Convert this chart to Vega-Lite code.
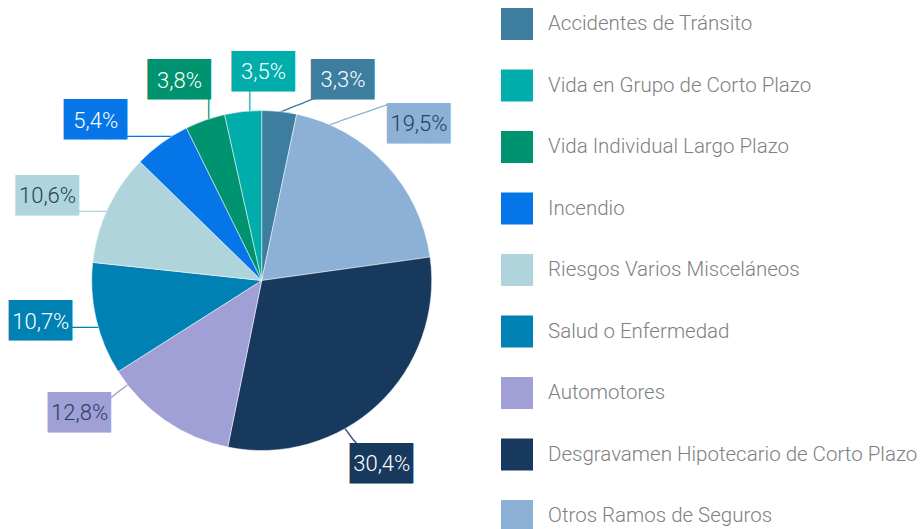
{
  "$schema": "https://vega.github.io/schema/vega-lite/v6.json",
  "width": 523.4,
  "height": 497,
  "autosize": {"type": "none"},
  "padding": {"left": 0, "top": 32, "right": 398.6, "bottom": 0},
  "background": "#ffffff",
  "config": {"view": {"stroke": null}},
  "data": {"values": [
    {"ramo": "Accidentes de Tránsito", "valor": 3.3, "etiqueta": "3,3%", "orden": 1},
    {"ramo": "Otros Ramos de Seguros", "valor": 19.5, "etiqueta": "19,5%", "orden": 2},
    {"ramo": "Desgravamen Hipotecario de Corto Plazo", "valor": 30.4, "etiqueta": "30,4%", "orden": 3},
    {"ramo": "Automotores", "valor": 12.8, "etiqueta": "12,8%", "orden": 4},
    {"ramo": "Salud o Enfermedad", "valor": 10.7, "etiqueta": "10,7%", "orden": 5},
    {"ramo": "Riesgos Varios Misceláneos", "valor": 10.6, "etiqueta": "10,6%", "orden": 6},
    {"ramo": "Incendio", "valor": 5.4, "etiqueta": "5,4%", "orden": 7},
    {"ramo": "Vida Individual Largo Plazo", "valor": 3.8, "etiqueta": "3,8%", "orden": 8},
    {"ramo": "Vida en Grupo de Corto Plazo", "valor": 3.5, "etiqueta": "3,5%", "orden": 9}
  ]},
  "encoding": {
    "theta": {"field": "valor", "type": "quantitative", "stack": true},
    "order": {"field": "orden", "type": "quantitative"},
    "detail": {"field": "ramo", "type": "nominal"}
  },
  "layer": [
    {"mark": {"type": "text", "radius": 222, "font": "DejaVu Sans Mono", "fontSize": 14, "align": "left", "baseline": "middle", "angle": 338.2, "dx": -30.6, "dy": 47.7, "color": "#3d7da0"},
     "encoding": {"text": {"value": "──────"}, "opacity": {"condition": {"test": "datum.orden == 1", "value": 1}, "value": 0}}},
    {"mark": {"type": "text", "radius": 222, "font": "DejaVu Sans Mono", "fontSize": 14, "align": "left", "baseline": "middle", "angle": 340.8, "dx": -94.2, "dy": -34.3, "color": "#8cb0d6"},
     "encoding": {"text": {"value": "────────"}, "opacity": {"condition": {"test": "datum.orden == 2", "value": 1}, "value": 0}}},
    {"mark": {"type": "text", "radius": 222, "font": "DejaVu Sans Mono", "fontSize": 14, "align": "left", "baseline": "middle", "angle": 52.6, "dx": -62.5, "dy": 47.2, "color": "#17395d"},
     "encoding": {"text": {"value": "────"}, "opacity": {"condition": {"test": "datum.orden == 3", "value": 1}, "value": 0}}},
    {"mark": {"type": "text", "radius": 222, "font": "DejaVu Sans Mono", "fontSize": 14, "align": "left", "baseline": "middle", "angle": 142, "dx": -51.5, "dy": 67.9, "color": "#a09fd6"},
     "encoding": {"text": {"value": "─────"}, "opacity": {"condition": {"test": "datum.orden == 4", "value": 1}, "value": 0}}},
    {"mark": {"type": "text", "radius": 222, "font": "DejaVu Sans Mono", "fontSize": 14, "align": "left", "baseline": "middle", "angle": 0, "dx": 22.2, "dy": -2.7, "color": "#0081b3"},
     "encoding": {"text": {"value": "─────"}, "opacity": {"condition": {"test": "datum.orden == 5", "value": 1}, "value": 0}}},
    {"mark": {"type": "text", "radius": 222, "font": "DejaVu Sans Mono", "fontSize": 14, "align": "left", "baseline": "middle", "angle": 0, "dx": 13.5, "dy": 25.7, "color": "#b0d4db"},
     "encoding": {"text": {"value": "─────"}, "opacity": {"condition": {"test": "datum.orden == 6", "value": 1}, "value": 0}}},
    {"mark": {"type": "text", "radius": 222, "font": "DejaVu Sans Mono", "fontSize": 14, "align": "left", "baseline": "middle", "angle": 0, "dx": -8.5, "dy": 36.4, "color": "#0575e8"},
     "encoding": {"text": {"value": "───────"}, "opacity": {"condition": {"test": "datum.orden == 7", "value": 1}, "value": 0}}},
    {"mark": {"type": "text", "radius": 222, "font": "DejaVu Sans Mono", "fontSize": 14, "align": "left", "baseline": "middle", "angle": 90, "dx": 23.1, "dy": -19.9, "color": "#00936f"},
     "encoding": {"text": {"value": "─────"}, "opacity": {"condition": {"test": "datum.orden == 8", "value": 1}, "value": 0}}},
    {"mark": {"type": "text", "radius": 222, "font": "DejaVu Sans Mono", "fontSize": 14, "align": "left", "baseline": "middle", "angle": 90, "dx": 25.9, "dy": -11.7, "color": "#00adab"},
     "encoding": {"text": {"value": "─────"}, "opacity": {"condition": {"test": "datum.orden == 9", "value": 1}, "value": 0}}},
    {"mark": {"type": "arc", "outerRadius": 170, "stroke": "#ffffff", "strokeWidth": 0.5},
     "encoding": {"color": {"field": "ramo", "type": "nominal",
       "scale": {"domain": ["Accidentes de Tránsito", "Vida en Grupo de Corto Plazo", "Vida Individual Largo Plazo", "Incendio", "Riesgos Varios Misceláneos", "Salud o Enfermedad", "Automotores", "Desgravamen Hipotecario de Corto Plazo", "Otros Ramos de Seguros"],
                 "range": ["#3d7da0", "#00adab", "#00936f", "#0575e8", "#b0d4db", "#0081b3", "#a09fd6", "#17395d", "#8cb0d6"]},
       "legend": {"orient": "none", "legendX": 501, "legendY": -24, "title": null, "padding": 0, "symbolType": "square", "symbolSize": 1024, "symbolStrokeWidth": 0, "labelFont": "Roboto", "labelFontWeight": 300, "labelFontSize": 20.5, "labelColor": "#808080", "labelOffset": 15, "rowPadding": 29.5, "labelLimit": 500}}}},
    {"mark": {"type": "text", "radius": 222, "font": "DejaVu Sans Mono", "fontSize": 34, "align": "left", "baseline": "middle", "dx": 26.3, "dy": 21.3, "color": "#3d7da0"},
     "encoding": {"text": {"value": "███▏"}, "opacity": {"condition": {"test": "datum.orden == 1", "value": 1}, "value": 0}}},
    {"mark": {"type": "text", "radius": 222, "font": "DejaVu Sans Mono", "fontSize": 34, "align": "left", "baseline": "middle", "dx": -37.0, "dy": -4.2, "color": "#8cb0d6"},
     "encoding": {"text": {"value": "███▏"}, "opacity": {"condition": {"test": "datum.orden == 2", "value": 1}, "value": 0}}},
    {"mark": {"type": "text", "radius": 222, "font": "DejaVu Sans Mono", "fontSize": 34, "align": "left", "baseline": "middle", "dx": -63.9, "dy": 22.2, "color": "#17395d"},
     "encoding": {"text": {"value": "███▏"}, "opacity": {"condition": {"test": "datum.orden == 3", "value": 1}, "value": 0}}},
    {"mark": {"type": "text", "radius": 222, "font": "DejaVu Sans Mono", "fontSize": 34, "align": "left", "baseline": "middle", "dx": -88.1, "dy": -49.8, "color": "#a09fd6"},
     "encoding": {"text": {"value": "███▏"}, "opacity": {"condition": {"test": "datum.orden == 4", "value": 1}, "value": 0}}},
    {"mark": {"type": "text", "radius": 222, "font": "DejaVu Sans Mono", "fontSize": 34, "align": "left", "baseline": "middle", "dx": -36.7, "dy": -8.7, "color": "#0081b3"},
     "encoding": {"text": {"value": "███▏"}, "opacity": {"condition": {"test": "datum.orden == 5", "value": 1}, "value": 0}}},
    {"mark": {"type": "text", "radius": 222, "font": "DejaVu Sans Mono", "fontSize": 34, "align": "left", "baseline": "middle", "dx": -45.3, "dy": 11.0, "color": "#b0d4db"},
     "encoding": {"text": {"value": "███▏"}, "opacity": {"condition": {"test": "datum.orden == 6", "value": 1}, "value": 0}}},
    {"mark": {"type": "text", "radius": 222, "font": "DejaVu Sans Mono", "fontSize": 34, "align": "left", "baseline": "middle", "dx": -67.4, "dy": 20.6, "color": "#0575e8"},
     "encoding": {"text": {"value": "███▏"}, "opacity": {"condition": {"test": "datum.orden == 7", "value": 1}, "value": 0}}},
    {"mark": {"type": "text", "radius": 222, "font": "DejaVu Sans Mono", "fontSize": 34, "align": "left", "baseline": "middle", "dx": -40.3, "dy": 10.3, "color": "#00936f"},
     "encoding": {"text": {"value": "███▏"}, "opacity": {"condition": {"test": "datum.orden == 8", "value": 1}, "value": 0}}},
    {"mark": {"type": "text", "radius": 222, "font": "DejaVu Sans Mono", "fontSize": 34, "align": "left", "baseline": "middle", "dx": -5.8, "dy": 13.0, "color": "#00adab"},
     "encoding": {"text": {"value": "███▏"}, "opacity": {"condition": {"test": "datum.orden == 9", "value": 1}, "value": 0}}},
    {"mark": {"type": "text", "radius": 222, "font": "Roboto", "fontWeight": 300, "fontSize": 22, "align": "center", "baseline": "middle", "dx": 58.3, "dy": 20.8, "color": "#ffffff"},
     "encoding": {"text": {"field": "etiqueta"}, "opacity": {"condition": {"test": "datum.orden == 1", "value": 1}, "value": 0}}},
    {"mark": {"type": "text", "radius": 222, "font": "Roboto", "fontWeight": 300, "fontSize": 22, "align": "center", "baseline": "middle", "dx": -5.0, "dy": -4.7, "color": "#27405f"},
     "encoding": {"text": {"field": "etiqueta"}, "opacity": {"condition": {"test": "datum.orden == 2", "value": 1}, "value": 0}}},
    {"mark": {"type": "text", "radius": 222, "font": "Roboto", "fontWeight": 300, "fontSize": 22, "align": "center", "baseline": "middle", "dx": -31.9, "dy": 21.7, "color": "#ffffff"},
     "encoding": {"text": {"field": "etiqueta"}, "opacity": {"condition": {"test": "datum.orden == 3", "value": 1}, "value": 0}}},
    {"mark": {"type": "text", "radius": 222, "font": "Roboto", "fontWeight": 300, "fontSize": 22, "align": "center", "baseline": "middle", "dx": -56.1, "dy": -50.3, "color": "#27405f"},
     "encoding": {"text": {"field": "etiqueta"}, "opacity": {"condition": {"test": "datum.orden == 4", "value": 1}, "value": 0}}},
    {"mark": {"type": "text", "radius": 222, "font": "Roboto", "fontWeight": 300, "fontSize": 22, "align": "center", "baseline": "middle", "dx": -4.7, "dy": -9.2, "color": "#ffffff"},
     "encoding": {"text": {"field": "etiqueta"}, "opacity": {"condition": {"test": "datum.orden == 5", "value": 1}, "value": 0}}},
    {"mark": {"type": "text", "radius": 222, "font": "Roboto", "fontWeight": 300, "fontSize": 22, "align": "center", "baseline": "middle", "dx": -13.3, "dy": 10.5, "color": "#27405f"},
     "encoding": {"text": {"field": "etiqueta"}, "opacity": {"condition": {"test": "datum.orden == 6", "value": 1}, "value": 0}}},
    {"mark": {"type": "text", "radius": 222, "font": "Roboto", "fontWeight": 300, "fontSize": 22, "align": "center", "baseline": "middle", "dx": -35.4, "dy": 20.1, "color": "#ffffff"},
     "encoding": {"text": {"field": "etiqueta"}, "opacity": {"condition": {"test": "datum.orden == 7", "value": 1}, "value": 0}}},
    {"mark": {"type": "text", "radius": 222, "font": "Roboto", "fontWeight": 300, "fontSize": 22, "align": "center", "baseline": "middle", "dx": -8.3, "dy": 9.8, "color": "#ffffff"},
     "encoding": {"text": {"field": "etiqueta"}, "opacity": {"condition": {"test": "datum.orden == 8", "value": 1}, "value": 0}}},
    {"mark": {"type": "text", "radius": 222, "font": "Roboto", "fontWeight": 300, "fontSize": 22, "align": "center", "baseline": "middle", "dx": 26.2, "dy": 12.5, "color": "#ffffff"},
     "encoding": {"text": {"field": "etiqueta"}, "opacity": {"condition": {"test": "datum.orden == 9", "value": 1}, "value": 0}}}
  ]
}
